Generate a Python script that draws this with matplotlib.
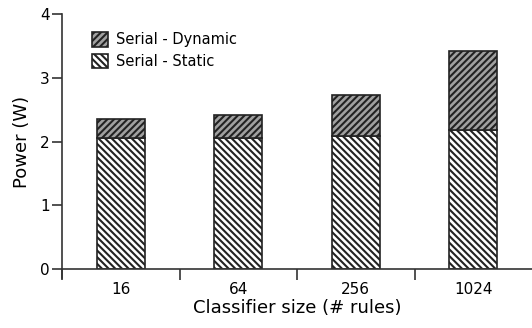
import matplotlib
matplotlib.use("Agg")
import matplotlib.pyplot as plt
import numpy as np

# Данные
sizes = ["16", "64", "256", "1024"]
static_w = [2.05, 2.06, 2.09, 2.18]
dynamic_w = [0.30, 0.36, 0.64, 1.24]

plt.rcParams["font.family"] = ["DejaVu Sans"]
plt.rcParams["hatch.linewidth"] = 1.5
plt.rcParams["hatch.color"] = "black"

fig = plt.figure(figsize=(5.32, 3.28), dpi=100)
ax = fig.add_axes([62 / 532, 59 / 328, 470 / 532, 255 / 328])

x = np.arange(len(sizes)) + 0.5
width = 0.41

ax.bar(x, static_w, width, color="white", edgecolor="#222222", linewidth=1.2,
       hatch="\\" * 5, label="Serial - Static", zorder=2)
ax.bar(x, dynamic_w, width, bottom=static_w, color="#a0a0a0", edgecolor="#222222",
       linewidth=1.2, hatch="/" * 5, label="Serial - Dynamic", zorder=2)

ax.set_xlim(0, 4)
ax.set_ylim(0, 4)
ax.set_yticks([0, 1, 2, 3, 4])
ax.set_xticks([0, 1, 2, 3])
ax.set_xticklabels([])
ax.set_xticks(x, minor=True)
ax.set_xticklabels(sizes, minor=True)
ax.tick_params(axis="x", which="minor", length=0, pad=9, labelsize=11)
ax.tick_params(axis="x", which="major", length=8, width=1.2, color="#333333")
ax.tick_params(axis="y", length=7, width=1.2, color="#333333", labelsize=11, pad=2)

for side in ["top", "right"]:
    ax.spines[side].set_visible(False)
for side in ["left", "bottom"]:
    ax.spines[side].set_linewidth(1.2)
    ax.spines[side].set_color("#333333")
ax.spines["left"].set_bounds(-0.14, 4)

ax.set_ylabel("Power (W)", fontsize=13, labelpad=6)
ax.set_xlabel("Classifier size (# rules)", fontsize=13, labelpad=2)

handles, labels = ax.get_legend_handles_labels()
ax.legend(handles[::-1], labels[::-1], loc="upper left", bbox_to_anchor=(0.035, 0.98),
          frameon=False, fontsize=10.5, handlelength=1.15, handleheight=1.15,
          handletextpad=0.55, labelspacing=0.45)

fig.savefig("out.png", dpi=100)
